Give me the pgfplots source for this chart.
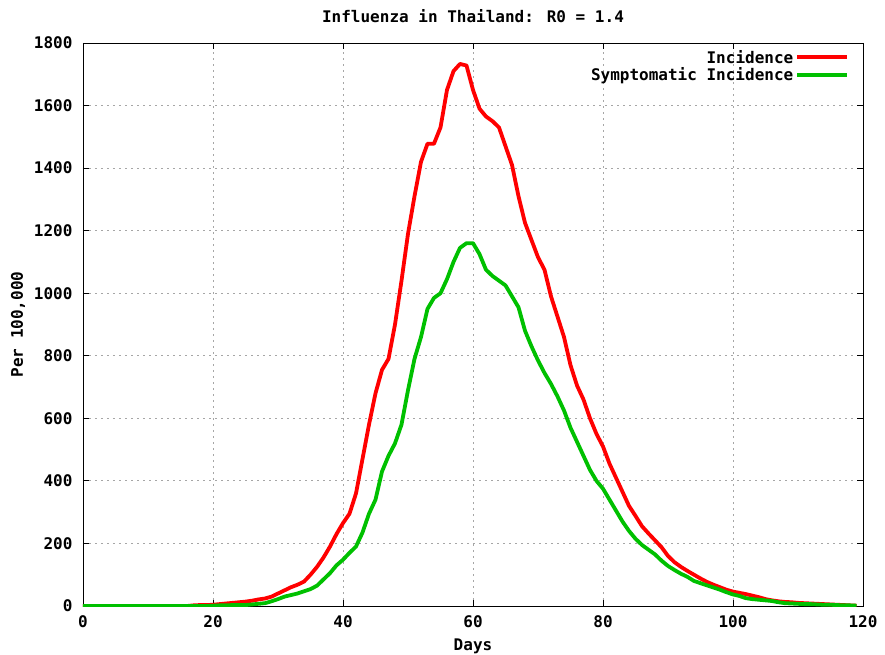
\documentclass[border=0pt]{standalone}
\usepackage{fontspec}
\setmainfont{DejaVu Sans Mono}
\usepackage{pgfplots}
\pgfplotsset{compat=1.18}
\definecolor{gpred}{RGB}{255,0,0}
\definecolor{gpgreen}{RGB}{0,192,0}

% Incidence per 100,000 by day
\pgfplotstableread{
day inc sym
0 0 0
5 0 0
10 0 0
15 0 0
16 0 0
17 2 0
18 3 0
19 3 0
20 4 1
21 6 2
22 8 2
23 10 3
24 12 3
25 14 3
26 17 5
27 21 7
28 24 9
29 30 15
30 40 22
31 50 30
32 60 35
33 68 40
34 78 47
35 100 54
36 125 65
37 155 85
38 190 105
39 230 130
40 265 148
41 295 170
42 360 190
43 470 235
44 580 295
45 680 340
46 755 430
47 790 480
48 900 520
49 1040 580
50 1190 690
51 1310 790
52 1420 860
53 1478 950
54 1478 985
55 1530 1000
56 1650 1045
57 1710 1100
58 1733 1145
59 1728 1160
60 1650 1160
61 1590 1125
62 1565 1075
63 1550 1055
64 1530 1040
65 1470 1025
66 1410 990
67 1310 955
68 1225 880
69 1170 830
70 1115 785
71 1075 745
72 990 710
73 925 670
74 860 625
75 770 570
76 705 525
77 660 480
78 600 435
79 550 400
80 510 375
81 455 340
82 410 305
83 365 270
84 320 240
85 288 215
86 255 195
87 232 180
88 210 165
89 188 145
90 160 128
91 140 115
92 125 103
93 112 93
94 100 80
95 88 73
96 77 66
97 68 59
98 60 52
99 52 44
100 46 37
101 42 32
102 38 25
103 33 22
104 28 20
105 22 18
106 18 16
107 15 12
108 13 9
109 12 8
110 10 7
111 9 6
112 8 6
113 7 5
114 6 4
115 5 4
116 4 3
117 3 2
118 2 2
119 1 1
}\flu

\begin{document}
\begin{tikzpicture}
\useasboundingbox (-83pt,-48pt) rectangle (802pt,606pt);
\begin{axis}[
    at={(0,0)}, anchor=south west,
    scale only axis,
    width=780pt, height=563pt,
    xmin=0, xmax=120, ymin=0, ymax=1800,
    xtick={0,20,...,120}, ytick={0,200,...,1800},
    tick align=inside, major tick length=6pt,
    grid=major,
    major grid style={gray!70, line width=0.8pt, dash pattern=on 2pt off 4pt},
    axis line style={line width=0.9pt},
    tick style={line width=0.9pt, black},
    font=\fontsize{16}{18}\selectfont\bfseries,
    /pgf/number format/assume math mode=true,
    /pgf/number format/1000 sep={},
    yticklabel style={xshift=-7pt},
    xticklabel style={yshift=-6pt},
    title={Influenza in Thailand: R0 = 1.4},
    title style={yshift=11pt},
    xlabel={Days},
    xlabel style={yshift=-4pt},
    ylabel={Per 100,000},
    ylabel style={yshift=2pt},
    legend style={at={(0.985,0.995)}, anchor=north east, draw=none, fill=none,
        row sep=-1pt, inner sep=2pt, cells={anchor=east}},
    legend plot pos=right,
    legend image code/.code={\draw[#1] (4pt,0pt) -- (54pt,0pt);},
]
\addplot[gpred, line width=3.8pt, line join=round] table[x=day, y=inc] {\flu};
\addlegendentry{Incidence}
\addplot[gpgreen, line width=3.8pt, line join=round] table[x=day, y=sym] {\flu};
\addlegendentry{Symptomatic Incidence}
\end{axis}
\end{tikzpicture}
\end{document}
